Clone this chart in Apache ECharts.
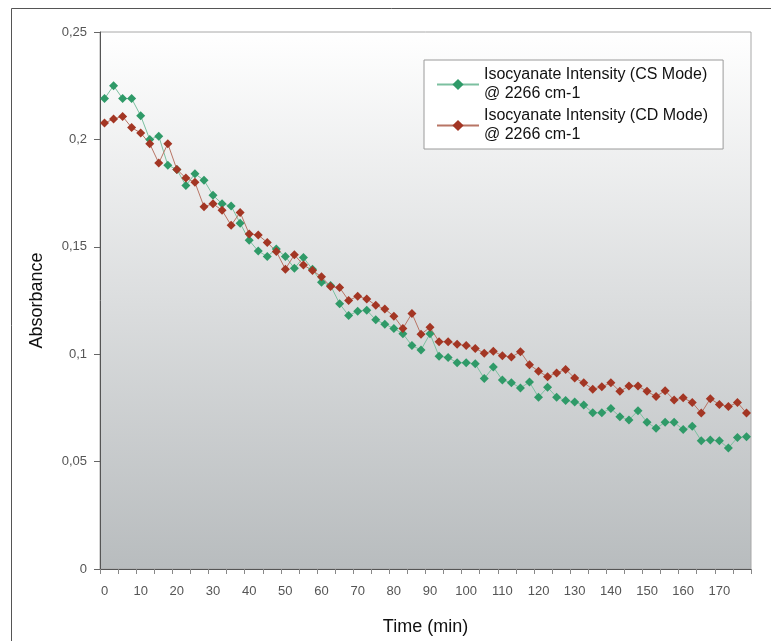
<!DOCTYPE html>
<html>
<head>
<meta charset="utf-8">
<script src="https://cdn.jsdelivr.net/npm/echarts@6/dist/echarts.min.js"></script>
<style>
html,body{margin:0;padding:0;background:#fff;}
#chart{width:771px;height:641px;}
</style>
</head>
<body>
<div id="chart"></div>
<script>
const times = [0,2.5,5,7.5,10,12.5,15,17.5,20,22.5,25,27.5,30,32.5,35,37.5,40,42.5,45,47.5,50,52.5,55,57.5,60,62.5,65,67.5,70,72.5,75,77.5,80,82.5,85,87.5,90,92.5,95,97.5,100,102.5,105,107.5,110,112.5,115,117.5,120,122.5,125,127.5,130,132.5,135,137.5,140,142.5,145,147.5,150,152.5,155,157.5,160,162.5,165,167.5,170,172.5,175,177.5];

const csMode = [0.219,0.225,0.219,0.219,0.211,0.200,0.2015,0.188,0.186,0.1785,
0.184,0.181,0.174,0.170,0.169,0.161,0.153,0.148,0.1455,0.149,
0.1455,0.140,0.145,0.1395,0.1335,0.132,0.1235,0.118,0.120,0.1205,
0.116,0.114,0.112,0.1095,0.104,0.102,0.1095,0.099,0.0985,0.096,
0.096,0.0955,0.0887,0.094,0.088,0.0867,0.0843,0.087,0.080,0.0846,
0.080,0.0784,0.0778,0.0763,0.0727,0.0727,0.0747,0.0709,0.0694,0.0737,
0.0683,0.0655,0.0683,0.0683,0.0649,0.0664,0.0597,0.060,0.0597,0.0563,
0.0612,0.0616];

const cdMode = [0.2076,0.2095,0.2107,0.2055,0.203,0.198,0.189,0.198,0.186,0.182,
0.180,0.1687,0.170,0.167,0.160,0.166,0.156,0.1555,0.152,0.1478,
0.1396,0.1463,0.1415,0.139,0.136,0.1315,0.131,0.125,0.127,0.1257,
0.1228,0.121,0.1177,0.112,0.119,0.1093,0.1125,0.1058,0.1058,0.1046,
0.104,0.1027,0.1005,0.1014,0.0993,0.0987,0.1011,0.0951,0.0921,0.0895,
0.0913,0.0929,0.0889,0.0867,0.0837,0.0848,0.0867,0.0827,0.0852,0.0852,
0.0827,0.0803,0.083,0.0787,0.0797,0.0775,0.0726,0.0793,0.0766,0.0756,
0.0775,0.0726];

const seriesNames = ['Isocyanate Intensity (CS Mode)\n@ 2266 cm-1', 'Isocyanate Intensity (CD Mode)\n@ 2266 cm-1'];
const xTitle = 'Time (min)';
const yTitle = 'Absorbance';

const FONT = '"Liberation Sans", Arial, sans-serif';
const chart = echarts.init(document.getElementById('chart'), null, {renderer: 'canvas'});

chart.setOption({
  animation: false,
  backgroundColor: '#ffffff',
  textStyle: {fontFamily: FONT},
  graphic: [{
    type: 'rect', silent: true, z: -10,
    shape: {x: 11.5, y: 8.5, width: 900, height: 800},
    style: {fill: null, stroke: '#555', lineWidth: 1}
  }],
  grid: {
    left: 100, top: 32, right: 20, bottom: 66,
    show: true,
    borderColor: '#a8a8a8', borderWidth: 1,
    backgroundColor: new echarts.graphic.LinearGradient(0, 0, 0, 1, [
      {offset: 0, color: '#ffffff'},
      {offset: 1, color: '#b8bcbe'}
    ])
  },
  legend: {
    orient: 'vertical',
    left: 424, top: 60,
    padding: [7, 15, 6, 12],
    itemGap: 6,
    itemWidth: 42, itemHeight: 14,
    itemTextGap: 6,
    borderColor: '#9a9a9a', borderWidth: 1,
    backgroundColor: '#ffffff',
    textStyle: {fontFamily: FONT, fontSize: 16, color: '#111', lineHeight: 19, padding: [0, 0, -19, 0]},
    data: seriesNames
  },
  xAxis: {
    type: 'category',
    data: times,
    boundaryGap: true,
    name: xTitle,
    nameLocation: 'middle',
    nameGap: 49,
    nameTextStyle: {fontFamily: FONT, fontSize: 18, color: '#111'},
    axisLine: {lineStyle: {color: '#555', width: 1}},
    axisTick: {show: true, interval: 1, length: 5, inside: false, lineStyle: {color: '#888'}},
    axisLabel: {interval: 3, margin: 16, fontSize: 13, color: '#555', fontFamily: FONT},
    splitLine: {show: false}
  },
  yAxis: {
    type: 'value',
    min: 0, max: 0.25, interval: 0.05,
    name: yTitle,
    nameLocation: 'middle',
    nameGap: 54,
    nameTextStyle: {fontFamily: FONT, fontSize: 18, color: '#111'},
    axisLine: {show: true, lineStyle: {color: '#555', width: 1}},
    axisTick: {show: true, length: 6, lineStyle: {color: '#666'}},
    axisLabel: {margin: 13, fontSize: 13, color: '#555', fontFamily: FONT,
      formatter: v => String(Math.round(v * 100) / 100).replace('.', ',')},
    splitLine: {show: false}
  },
  series: [{
    name: seriesNames[0],
    type: 'line',
    data: csMode,
    symbol: 'diamond',
    symbolSize: 9,
    showAllSymbol: true,
    lineStyle: {color: '#7cc0a0', width: 1},
    itemStyle: {color: '#2f9a68'}
  }, {
    name: seriesNames[1],
    type: 'line',
    data: cdMode,
    symbol: 'diamond',
    symbolSize: 9,
    showAllSymbol: true,
    lineStyle: {color: '#b87565', width: 1},
    itemStyle: {color: '#a33624'}
  }]
});
</script>
</body>
</html>
